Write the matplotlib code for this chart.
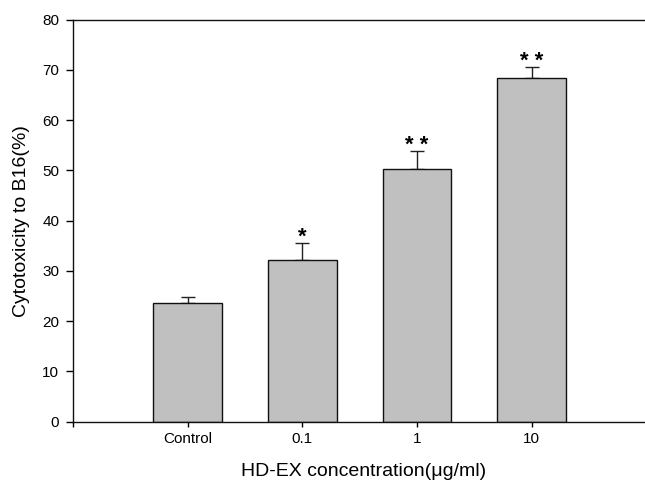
import matplotlib
matplotlib.use("Agg")
import matplotlib.pyplot as plt
import numpy as np

categories = ["Control", "0.1", "1", "10"]
values = [23.6, 32.1, 50.3, 68.4]
errors = [1.2, 3.4, 3.5, 2.2]
marks = ["", "*", "* *", "* *"]
yticks = [0, 10, 20, 30, 40, 50, 60, 70, 80]

plt.rcParams['font.family'] = ['Liberation Sans', 'DejaVu Sans']

fig = plt.figure(figsize=(6.45, 4.82), dpi=100)
ax = fig.add_axes([0.1132, 0.125, 0.889, 0.8345])

x = np.arange(len(categories))
ax.bar(x, values, width=0.6, color="#C0C0C0", edgecolor="#111111", linewidth=1.0, zorder=2)
ax.errorbar(x, values, yerr=[np.zeros(len(errors)), errors], fmt="none",
            ecolor="#222222", elinewidth=1.0, capsize=4.7, capthick=1.0, zorder=1)

for xi, v, e, m in zip(x, values, errors, marks):
    if m:
        ax.annotate(m, xy=(xi, v + e), xytext=(0, -3.5), textcoords="offset points",
                    ha="center", va="bottom", fontsize=16, fontweight="bold")

ax.set_xlim(-1, 4)
ax.set_ylim(0, 80)
ax.set_xticks(x)
ax.set_xticklabels(categories, fontsize=11)
ax.set_xticks([-1], minor=True)
ax.set_yticks(yticks)
ax.set_yticklabels([str(t) for t in yticks], fontsize=11)
ax.tick_params(axis="y", direction="out", length=5, width=1, pad=5)
ax.tick_params(axis="x", which="both", direction="out", length=3.6, width=1, pad=4)

ax.spines["right"].set_visible(False)
for s in ["left", "bottom", "top"]:
    ax.spines[s].set_linewidth(1.0)
    ax.spines[s].set_color("#111111")

ax.set_ylabel("Cytotoxicity to B16(%)", fontsize=14, labelpad=9)
ax.set_xlabel("HD-EX concentration(\u03bcg/ml)", fontsize=14, labelpad=12)
ax.xaxis.label.set_x(0.506)

fig.savefig("out.png", dpi=100)
